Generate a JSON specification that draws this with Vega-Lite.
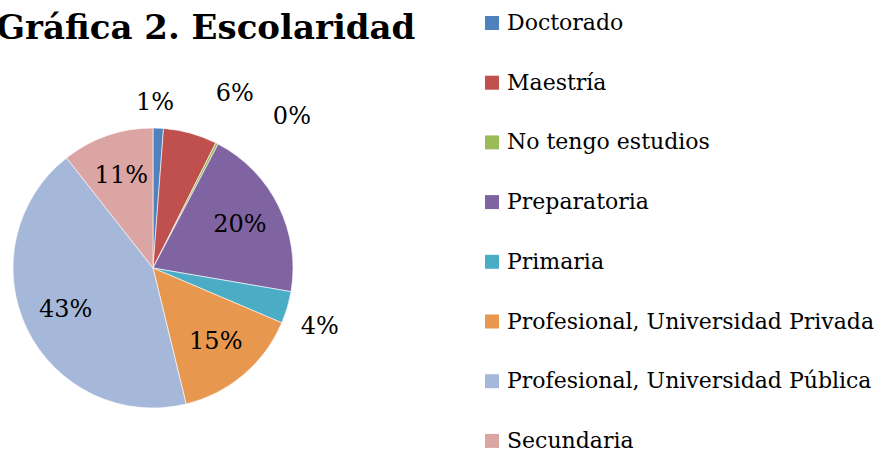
{
  "$schema": "https://vega.github.io/schema/vega-lite/v6.json",
  "width": 280,
  "height": 280,
  "autosize": {"type": "none"},
  "padding": {"left": 13, "top": 128, "right": 589, "bottom": 43},
  "background": "white",
  "title": {
    "text": "Gráfica 2. Escolaridad",
    "anchor": "start",
    "frame": "group",
    "orient": "top",
    "font": "DejaVu Serif",
    "fontWeight": "bold",
    "fontSize": 34,
    "color": "black",
    "baseline": "alphabetic",
    "offset": -61,
    "dx": -17
  },
  "config": {"view": {"stroke": null}},
  "data": {
    "values": [
      {"cat": "Doctorado", "value": 0.012},
      {"cat": "Maestría", "value": 0.062},
      {"cat": "No tengo estudios", "value": 0.003},
      {"cat": "Preparatoria", "value": 0.2},
      {"cat": "Primaria", "value": 0.037},
      {"cat": "Profesional, Universidad Privada", "value": 0.148},
      {"cat": "Profesional, Universidad Pública", "value": 0.432},
      {"cat": "Secundaria", "value": 0.106}
    ]
  },
  "encoding": {
    "theta": {"field": "value", "type": "quantitative", "stack": true},
    "order": {"field": "cat", "type": "ordinal", "sort": "ascending"}
  },
  "layer": [
    {
      "mark": {"type": "arc", "stroke": "white", "strokeWidth": 0.6},
      "encoding": {
        "color": {
          "field": "cat",
          "type": "nominal",
          "sort": ["Doctorado", "Maestría", "No tengo estudios", "Preparatoria", "Primaria", "Profesional, Universidad Privada", "Profesional, Universidad Pública", "Secundaria"],
          "scale": {
            "domain": ["Doctorado", "Maestría", "No tengo estudios", "Preparatoria", "Primaria", "Profesional, Universidad Privada", "Profesional, Universidad Pública", "Secundaria"],
            "range": ["#4F81BD", "#C0504D", "#9BBB59", "#8064A2", "#4BACC6", "#E8984E", "#A5B8DA", "#DBA5A4"]
          },
          "legend": {
            "title": null,
            "orient": "none",
            "legendX": 468,
            "legendY": -116,
            "symbolType": "square",
            "symbolSize": 196,
            "symbolStrokeWidth": 0,
            "labelFont": "DejaVu Serif",
            "labelFontSize": 22,
            "labelColor": "black",
            "labelOffset": 4,
            "labelLimit": 500,
            "rowPadding": 37.7
          }
        }
      }
    },
    {
      "mark": {"type": "text", "radius": 97, "font": "DejaVu Serif", "fontSize": 24, "color": "black"},
      "encoding": {
        "opacity": {"condition": {"test": "datum.value >= 0.1", "value": 1}, "value": 0},
        "text": {"field": "value", "type": "quantitative", "format": ".0%"}
      }
    },
    {
      "mark": {"type": "text", "radius": 165, "thetaOffset": -0.025, "font": "DejaVu Serif", "fontSize": 24, "color": "black"},
      "encoding": {
        "opacity": {"condition": {"test": "datum.value >= 0.01 && datum.value < 0.02", "value": 1}, "value": 0},
        "text": {"field": "value", "type": "quantitative", "format": ".0%"}
      }
    },
    {
      "mark": {"type": "text", "radius": 177, "thetaOffset": 0.055, "font": "DejaVu Serif", "fontSize": 24, "color": "black"},
      "encoding": {
        "opacity": {"condition": {"test": "datum.value >= 0.02 && datum.value < 0.05", "value": 1}, "value": 0},
        "text": {"field": "value", "type": "quantitative", "format": ".0%"}
      }
    },
    {
      "mark": {"type": "text", "radius": 192, "thetaOffset": 0.17, "font": "DejaVu Serif", "fontSize": 24, "color": "black"},
      "encoding": {
        "opacity": {"condition": {"test": "datum.value >= 0.05 && datum.value < 0.1", "value": 1}, "value": 0},
        "text": {"field": "value", "type": "quantitative", "format": ".0%"}
      }
    },
    {
      "mark": {"type": "text", "radius": 205, "thetaOffset": 0.27, "font": "DejaVu Serif", "fontSize": 24, "color": "black"},
      "encoding": {
        "opacity": {"condition": {"test": "datum.value < 0.01", "value": 1}, "value": 0},
        "text": {"field": "value", "type": "quantitative", "format": ".0%"}
      }
    }
  ]
}
